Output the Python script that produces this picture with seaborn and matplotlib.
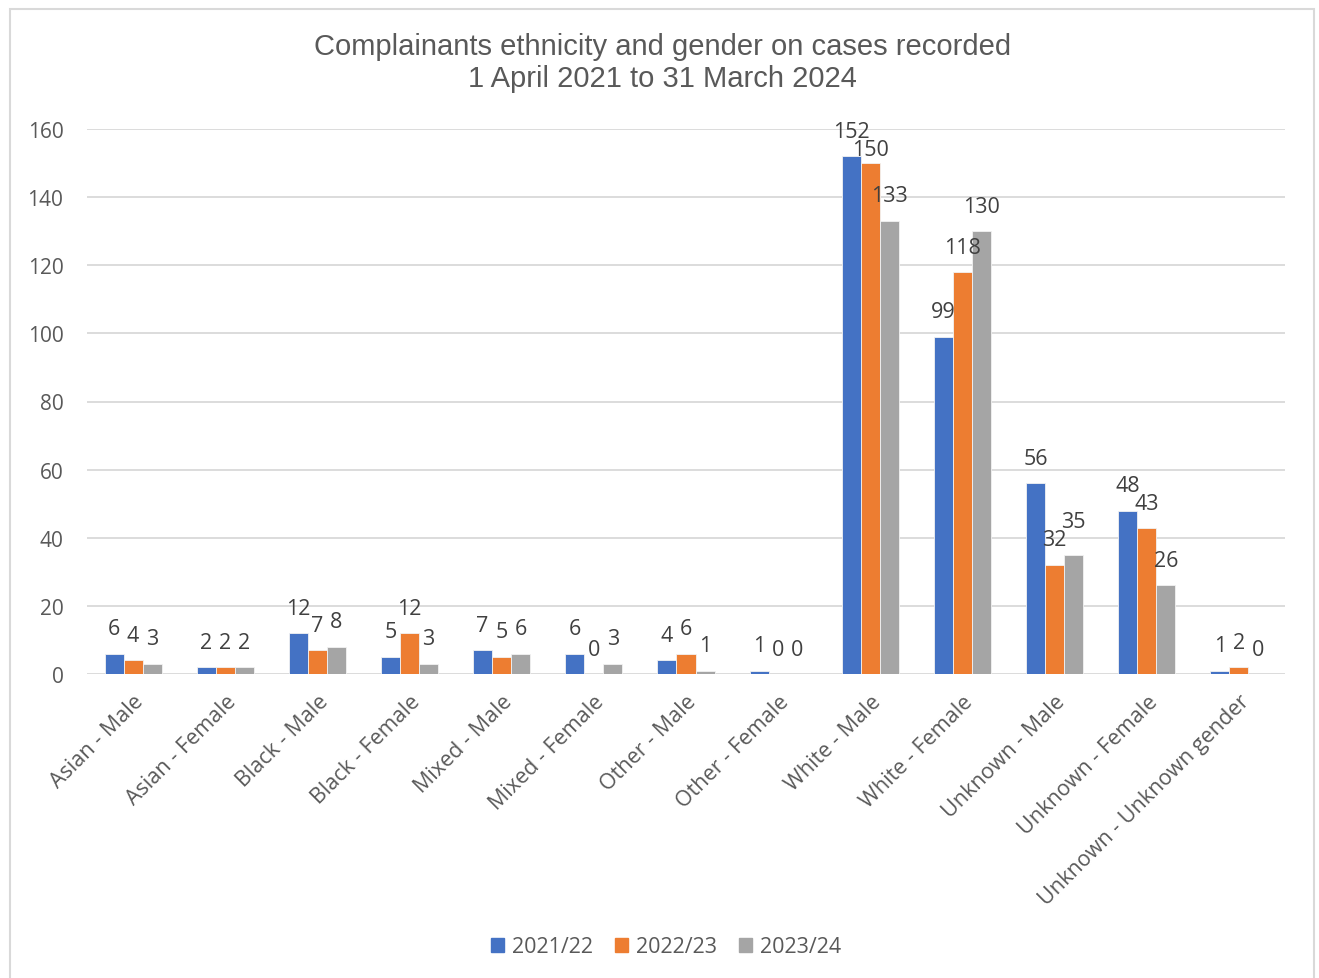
import matplotlib
matplotlib.use("Agg")
import matplotlib.pyplot as plt
from matplotlib.patches import Rectangle
import seaborn as sns
import pandas as pd

categories = [
    "Asian - Male", "Asian - Female", "Black - Male", "Black - Female",
    "Mixed - Male", "Mixed - Female", "Other - Male", "Other - Female",
    "White - Male", "White - Female", "Unknown - Male", "Unknown - Female",
    "Unknown - Unknown gender",
]
years = ["2021/22", "2022/23", "2023/24"]
counts_2021_22 = [6, 2, 12, 5, 7, 6, 4, 1, 152, 99, 56, 48, 1]
counts_2022_23 = [4, 2, 7, 12, 5, 0, 6, 0, 150, 118, 32, 43, 2]
counts_2023_24 = [3, 2, 8, 3, 6, 3, 1, 0, 133, 130, 35, 26, 0]
yticks = [0, 20, 40, 60, 80, 100, 120, 140, 160]
colors = ["#4472C4", "#ED7D31", "#A5A5A5"]

series = [counts_2021_22, counts_2022_23, counts_2023_24]
df = pd.DataFrame(
    [(c, y, v) for y, vals in zip(years, series) for c, v in zip(categories, vals)],
    columns=["category", "year", "count"],
)

sns.set_theme(style="white")
plt.rcParams["font.family"] = ["Open Sans", "DejaVu Sans"]

W, H = 1319, 979
fig = plt.figure(figsize=(W / 100, H / 100), dpi=100)
ax = fig.add_axes([87 / W, 1 - 675 / H, (1285 - 87) / W, (675 - 130) / H])

sns.barplot(
    data=df, x="category", y="count", hue="year", order=categories,
    hue_order=years, palette=colors, width=0.62, gap=0, ax=ax,
    saturation=1, legend=True, errorbar=None, edgecolor="#F2F2F2", linewidth=0.6,
)

ax.set_ylim(0, 160)
ax.set_yticks(yticks)
ax.set_xlim(-0.5, len(categories) - 0.5)
ax.yaxis.grid(True, color="#D9D9D9", linewidth=1.3)
ax.set_axisbelow(True)
for s in ax.spines.values():
    s.set_visible(False)
ax.set_xlabel("")
ax.set_ylabel("")
ax.tick_params(axis="both", length=0, colors="#595959")
ax.tick_params(axis="y", pad=17, labelsize=15)
ax.tick_params(axis="x", pad=12, labelsize=15.5)
plt.setp(ax.get_xticklabels(), rotation=45, ha="right", rotation_mode="anchor")

# value labels above each bar; a label that would collide with its left
# neighbour in the same group is pushed further away vertically
LABEL_GAP = 25      # px between bar top and label centre
LINE_H = 18         # px needed between stacked labels
DIGIT_W = 12        # approx px per digit
fig.canvas.draw()
to_px = ax.transData
n_groups = len(categories)
for g in range(n_groups):
    prev = None
    for container in ax.containers:
        bar = container[g]
        h = bar.get_height()
        xc = bar.get_x() + bar.get_width() / 2
        px, py = to_px.transform((xc, h))
        cy = py + LABEL_GAP
        txt = f"{int(round(h))}"
        half_w = len(txt) * DIGIT_W / 2
        if prev is not None:
            p_x, p_y, p_hw = prev
            if abs(px - p_x) < half_w + p_hw and abs(cy - p_y) < LINE_H:
                cy = p_y - LINE_H if cy < p_y else p_y + LINE_H
        prev = (px, cy, half_w)
        ax.annotate(
            txt, (xc, h), xytext=(0, cy - py), textcoords="offset pixels",
            ha="center", va="center", fontsize=15.5, color="#404040",
        )

ax.legend_.remove()
handles = [Rectangle((0, 0), 1, 1, color=c) for c in colors]
fig.legend(
    handles, years, loc="center", bbox_to_anchor=(0.505, 1 - 948 / H),
    ncol=3, frameon=False, fontsize=15.5, handlelength=0.6, handleheight=0.6,
    handletextpad=0.35, columnspacing=1.05, labelcolor="#595959",
)

fig.text(
    0.502, 1 - 63 / H,
    "Complainants ethnicity and gender on cases recorded\n1 April 2021 to 31 March 2024",
    ha="center", va="center", fontsize=21, color="#595959",
    family=["Liberation Sans", "DejaVu Sans"], linespacing=1.15,
)

fig.patches.append(Rectangle(
    (10 / W, -0.01), (1314 - 10) / W, 1 - 10 / H + 0.01,
    transform=fig.transFigure, fill=False, edgecolor="#D9D9D9", linewidth=1.5,
))

fig.savefig("out.png", dpi=100)
